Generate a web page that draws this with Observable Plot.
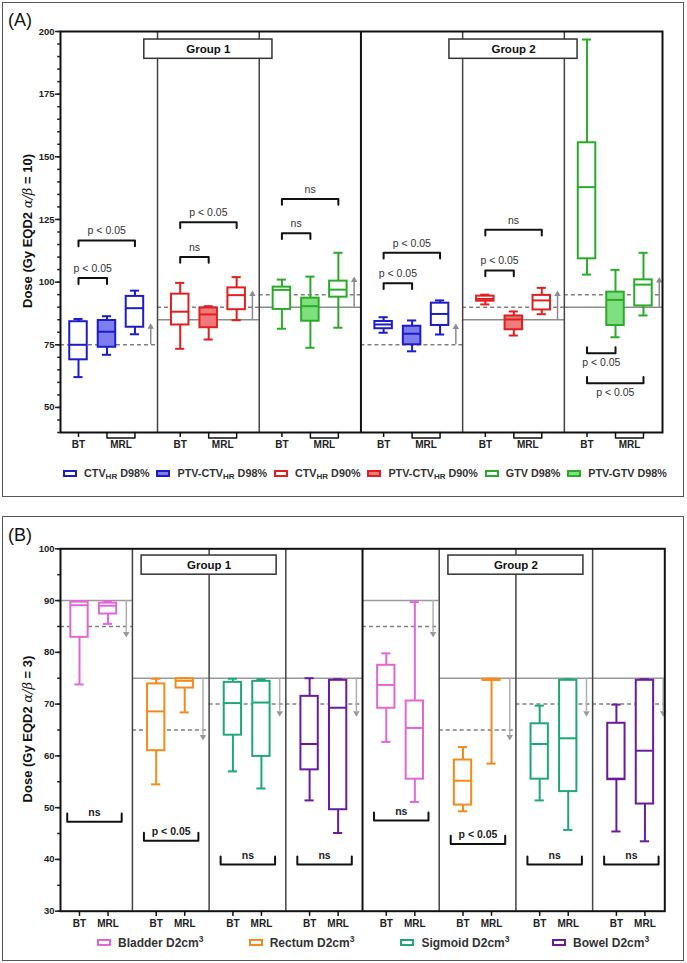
<!DOCTYPE html>
<html>
<head>
<meta charset="utf-8">
<script src="https://cdn.jsdelivr.net/npm/d3@7"></script>
<script src="https://cdn.jsdelivr.net/npm/@observablehq/plot@0.6"></script>
<style>
  body { margin: 0; background: #fff; font-family: "Liberation Sans", Arial, sans-serif; }
  #page { position: relative; width: 687px; height: 963px; overflow: hidden; background: #fff; }
  .panel { position: absolute; border: 1.5px solid #555; box-sizing: border-box; }
  .chart { position: absolute; left: 0; }
  .tag { position: absolute; font-size: 18px; color: #111; line-height: 1; }
  .ytitle { position: absolute; transform: translate(-50%, -50%) rotate(-90deg); white-space: nowrap;
            font-size: 13px; font-weight: bold; color: #111; }
  .ytitle i { font-weight: normal; font-family: "DejaVu Serif", serif; font-size: 13px; }
  .legend { position: absolute; display: flex; align-items: center; font-weight: bold; color: #333; }
  .item { display: flex; align-items: center; white-space: nowrap; }
  .sw { width: 10px; height: 3px; border: 2px solid; margin-right: 7px; flex: none; }
  .lab { white-space: nowrap; }
  .legend sub { font-size: 8px; vertical-align: -2px; line-height: 0; }
  .legend sup { font-size: 8.5px; vertical-align: 5px; line-height: 0; }
</style>
</head>
<body>
<div id="page"></div>
<script>
// ---------- Panel A: target doses, EQD2 (α/β = 10) ----------
const aLegendNames = ["CTV_HR D98%", "PTV-CTV_HR D98%", "CTV_HR D90%", "PTV-CTV_HR D90%", "GTV D98%", "PTV-GTV D98%"];
const aGroupNames = ["Group 1", "Group 2"];
const techLabels = ["BT", "MRL"];
const aYTicks = [50, 75, 100, 125, 150, 175, 200];

// one entry per box: subpanel, slot (0 = BT, 1/2 = MRL), series
const aSubpanel = [0, 0, 0, 1, 1, 1, 2, 2, 2, 3, 3, 3, 4, 4, 4, 5, 5, 5];
const aSlot     = [0, 1, 2, 0, 1, 2, 0, 1, 2, 0, 1, 2, 0, 1, 2, 0, 1, 2];
const aSeries   = [0, 1, 0, 2, 3, 2, 4, 5, 4, 0, 1, 0, 2, 3, 2, 4, 5, 4];
const aMin    = [62.1, 71.0, 79.2, 73.4, 77.1, 84.8, 81.4, 73.8, 81.8, 79.8, 72.4, 79.1, 91.1, 78.7, 87.2, 103.0, 78.0, 86.7];
const aQ1     = [69.0, 74.0, 82.0, 82.9, 81.8, 89.0, 89.1, 84.4, 94.0, 81.4, 75.0, 82.7, 92.4, 81.0, 88.9, 109.3, 82.7, 90.5];
const aMedian = [75.0, 80.2, 89.6, 88.2, 87.1, 94.8, 96.9, 90.4, 97.0, 83.1, 79.4, 87.3, 93.3, 85.1, 92.7, 137.9, 92.9, 99.0];
const aQ3     = [84.2, 84.7, 94.3, 95.2, 89.7, 97.7, 98.0, 93.6, 100.4, 84.3, 82.4, 91.6, 94.4, 86.5, 94.7, 155.6, 96.0, 100.9];
const aMax    = [85.3, 86.4, 96.6, 99.7, 90.4, 102.0, 101.0, 102.2, 111.7, 86.0, 84.7, 92.7, 95.0, 88.3, 97.7, 196.8, 104.9, 111.7];

// dose constraints per subpanel
const aSolid     = [null, 85, 90, null, 85, 90];
const aDashed    = [75, 90, 95, 75, 90, 95];
const aArrowFrom = [75, 85, 90, 75, 85, 90];
const aArrowTo   = [83.5, 96.6, 102.2, 83.4, 96.6, 102.0];

// significance brackets: BT compared with MRL slot
const aSigSubpanel = [0, 0, 1, 1, 2, 2, 3, 3, 4, 4, 5, 5];
const aSigSlot     = [1, 2, 1, 2, 1, 2, 1, 2, 1, 2, 1, 2];
const aSigLevel    = [101.6, 116.6, 110.0, 123.9, 119.5, 133.2, 99.6, 111.7, 104.6, 120.9, 71.6, 59.7];
const aSigText     = ["p < 0.05", "p < 0.05", "ns", "p < 0.05", "ns", "ns", "p < 0.05", "p < 0.05", "p < 0.05", "ns", "p < 0.05", "p < 0.05"];
const aSigBelow    = [false, false, false, false, false, false, false, false, false, false, true, true];

// ---------- Panel B: organs at risk, EQD2 (α/β = 3) ----------
const bLegendNames = ["Bladder", "Rectum", "Sigmoid", "Bowel"];
const bYTicks = [30, 40, 50, 60, 70, 80, 90, 100];
const bSubpanel = [0, 0, 1, 1, 2, 2, 3, 3, 4, 4, 5, 5, 6, 6, 7, 7];
const bSlot     = [0, 1, 0, 1, 0, 1, 0, 1, 0, 1, 0, 1, 0, 1, 0, 1];
const bSeries   = [0, 0, 1, 1, 2, 2, 3, 3, 0, 0, 1, 1, 2, 2, 3, 3];
const bMin    = [73.8, 85.5, 54.5, 68.4, 57.0, 53.7, 51.4, 45.1, 62.7, 51.1, 49.3, 58.5, 51.4, 45.7, 45.4, 43.5];
const bQ1     = [82.9, 87.4, 61.0, 73.1, 64.0, 59.9, 57.3, 49.6, 69.2, 55.5, 50.5, 74.6, 55.5, 53.1, 55.4, 50.7];
const bMedian = [89.1, 89.0, 68.6, 74.5, 70.2, 70.3, 62.3, 69.3, 73.7, 65.4, 55.2, 74.7, 62.3, 63.4, 55.6, 61.0];
const bQ3     = [89.7, 89.5, 73.9, 74.9, 74.2, 74.4, 71.5, 74.6, 77.5, 70.6, 59.2, 74.8, 66.2, 74.6, 66.3, 74.6];
const bMax    = [89.9, 89.9, 74.9, 75.0, 74.9, 74.8, 75.0, 74.8, 79.8, 89.7, 61.7, 74.9, 69.7, 74.8, 69.9, 74.8];

const bSolid   = [90, 75, 75, 75, 90, 75, 75, 75];
const bDashed  = [85, 65, 70, 70, 85, 65, 70, 70];
const bArrowTo = [82.9, 63.0, 67.6, 67.6, 82.9, 63.0, 67.6, 67.6];

const bSigLevel = [47.3, 43.6, 39.0, 39.0, 47.5, 43.0, 39.0, 39.0];
const bSigText  = ["ns", "p < 0.05", "ns", "ns", "ns", "p < 0.05", "ns", "ns"];

// ---------- styling ----------
const aStroke = ["#1c1cc8", "#1c1cc8", "#e02020", "#e02020", "#2aab2a", "#2aab2a"];
const aFill   = ["#ffffff", "#7d7def", "#ffffff", "#f07a7a", "#ffffff", "#80e080"];
const bStroke = ["#e067d6", "#f28b1d", "#1fa77c", "#6a1c9a"];
const FONT = '"Liberation Sans", Arial, sans-serif';

// ---------- layout helpers (x in subpanel units) ----------
const A = { slot: [0, 0.28, 0.555], div: 0.777, domain: [-0.177, 5.742], n: 6, half: 0.086, cap: 0.045 };
const B = { slot: [0, 0.372], div: 0.69, domain: [-0.2477, 7.631], n: 8, half: 0.113, cap: 0.06 };

function span(k, L) {
  return [k === 0 ? L.domain[0] : k - 1 + L.div, k === L.n - 1 ? L.domain[1] : k + L.div];
}

function boxRows(sub, slot, series, mn, q1, md, q3, mx, L) {
  return mn.map((_, i) => ({
    x: sub[i] + L.slot[slot[i]], series: series[i],
    min: mn[i], q1: q1[i], median: md[i], q3: q3[i], max: mx[i]
  }));
}

function boxMarks(rows, L, stroke, fill) {
  const s = d => stroke[d.series];
  const common = { stroke: s, strokeWidth: 2 };
  return [
    Plot.ruleX(rows, { x: "x", y1: "min", y2: "q1", ...common }),
    Plot.ruleX(rows, { x: "x", y1: "q3", y2: "max", ...common }),
    Plot.ruleY(rows, { y: "min", x1: d => d.x - L.cap, x2: d => d.x + L.cap, ...common }),
    Plot.ruleY(rows, { y: "max", x1: d => d.x - L.cap, x2: d => d.x + L.cap, ...common }),
    Plot.rect(rows, { x1: d => d.x - L.half, x2: d => d.x + L.half, y1: "q1", y2: "q3",
                      fill: d => fill[d.series], ...common }),
    Plot.ruleY(rows, { y: "median", x1: d => d.x - L.half, x2: d => d.x + L.half, ...common })
  ];
}

function dividerRows(L, groupBreak) {
  const rows = [];
  for (let k = 0; k < L.n - 1; k++) rows.push({ x: k + L.div, major: k === groupBreak });
  return rows;
}

const page = document.getElementById("page");

// ---------- Panel A chart ----------
const aBoxes = boxRows(aSubpanel, aSlot, aSeries, aMin, aQ1, aMedian, aQ3, aMax, A);
const aRef = aDashed.map((v, k) => {
  const [x1, x2] = span(k, A);
  return { k, x1, x2, solid: aSolid[k], dashed: v, from: aArrowFrom[k], to: aArrowTo[k] };
});
const aSigRows = aSigLevel.map((v, i) => ({
  id: i, x1: aSigSubpanel[i], x2: aSigSubpanel[i] + A.slot[aSigSlot[i]],
  y: v, text: aSigText[i], below: aSigBelow[i]
}));
const aSigPts = aSigRows.flatMap(d => {
  const e = d.below ? 2.4 : -2.3;
  return [{ id: d.id, x: d.x1, y: d.y + e }, { id: d.id, x: d.x1, y: d.y },
          { id: d.id, x: d.x2, y: d.y }, { id: d.id, x: d.x2, y: d.y + e }];
});
const aTicksX = d3.range(A.n).map(k => ({ k }));
const aMrlPts = aTicksX.flatMap(({ k }) => [
  { k, x: k + A.slot[1], y: 40 }, { k, x: k + A.slot[1], y: 37.8 },
  { k, x: k + A.slot[2], y: 37.8 }, { k, x: k + A.slot[2], y: 40 }
]);
const aGroups = aGroupNames.map((g, i) => {
  const c = 1 + 3 * i + A.div - 0.5;
  return { text: g, x1: c - 0.63, x2: c + 0.63, c, y1: 189.1, y2: 196.8 };
});

const chartA = Plot.plot({
  width: 687, height: 455,
  marginLeft: 60, marginRight: 25, marginTop: 31, marginBottom: 23,
  style: { fontFamily: FONT, background: "transparent", overflow: "visible", color: "#222" },
  x: { domain: A.domain, axis: null },
  y: { domain: [40, 200] },
  color: { type: "identity" },
  marks: [
    Plot.ruleY(aRef.filter(d => d.solid != null), { y: "solid", x1: "x1", x2: "x2", stroke: "#8c8c8c", strokeWidth: 1.5 }),
    Plot.ruleY(aRef, { y: "dashed", x1: "x1", x2: "x2", stroke: "#808080", strokeWidth: 1.5, strokeDasharray: "4,3" }),
    Plot.ruleX(aRef, { x: d => d.k + 0.71, y1: "from", y2: d => d.to - 1.5, stroke: "#8c8c8c", strokeWidth: 1.5 }),
    Plot.dot(aRef, { x: d => d.k + 0.71, y: "to", symbol: "triangle", r: 2.4, fill: "#8c8c8c", stroke: null, dy: 3.5 }),
    ...boxMarks(aBoxes, A, aStroke, aFill),
    Plot.ruleX(dividerRows(A, 2), { x: "x", stroke: d => d.major ? "#111" : "#444", strokeWidth: d => d.major ? 2 : 1.5 }),
    Plot.frame({ stroke: "#111", strokeWidth: 2 }),
    Plot.axisY({ ticks: aYTicks, tickSize: 5, tickPadding: 1, fontSize: 9.5, fontWeight: "bold", label: null, strokeWidth: 1.5 }),
    Plot.axisY({ ticks: d3.range(40, 201, 5), tickSize: 2.8, tickFormat: () => "", label: null, strokeWidth: 1.5 }),
    Plot.line(aSigPts, { x: "x", y: "y", z: "id", stroke: "#111", strokeWidth: 2 }),
    Plot.text(aSigRows.filter(d => !d.below), { x: d => (d.x1 + d.x2) / 2, y: "y", text: "text", dy: -9.5, fontSize: 10.5, fill: "#333" }),
    Plot.text(aSigRows.filter(d => d.below), { x: d => (d.x1 + d.x2) / 2, y: "y", text: "text", dy: 9.5, fontSize: 10.5, fill: "#333" }),
    Plot.ruleX(aTicksX, { x: "k", y1: 40, y2: 38, stroke: "#111", strokeWidth: 1.5 }),
    Plot.line(aMrlPts, { x: "x", y: "y", z: "k", stroke: "#111", strokeWidth: 1.5 }),
    Plot.text(aTicksX, { x: "k", y: 40, text: () => techLabels[0], dy: 12.5, fontSize: 10, fontWeight: "bold", fill: "#222" }),
    Plot.text(aTicksX, { x: d => d.k + (A.slot[1] + A.slot[2]) / 2, y: 40, text: () => techLabels[1], dy: 12.5, fontSize: 10, fontWeight: "bold", fill: "#222" }),
    Plot.rect(aGroups, { x1: "x1", x2: "x2", y1: "y1", y2: "y2", fill: "#fff", stroke: "#333", strokeWidth: 1.5 }),
    Plot.text(aGroups, { x: "c", y: d => (d.y1 + d.y2) / 2, text: "text", fontSize: 11.5, fontWeight: "bold", fill: "#111" })
  ]
});
chartA.classList.add("chart");
chartA.style.top = "0px";

// ---------- Panel B chart ----------
const bBoxes = boxRows(bSubpanel, bSlot, bSeries, bMin, bQ1, bMedian, bQ3, bMax, B);
const bRef = bSolid.map((v, k) => {
  const [x1, x2] = span(k, B);
  return { k, x1, x2, solid: v, dashed: bDashed[k], to: bArrowTo[k] };
});
const bSigRows = bSigLevel.map((v, k) => ({ id: k, x1: k - 0.16, x2: k + 0.55, y: v, text: bSigText[k] }));
const bSigPts = bSigRows.flatMap(d => [
  { id: d.id, x: d.x1, y: d.y + 1.55 }, { id: d.id, x: d.x1, y: d.y },
  { id: d.id, x: d.x2, y: d.y }, { id: d.id, x: d.x2, y: d.y + 1.55 }
]);
const bTicksX = d3.range(B.n).flatMap(k => B.slot.map((o, j) => ({ x: k + o, text: techLabels[j] })));
const bGroups = aGroupNames.map((g, i) => {
  const c = 1 + 4 * i + B.div;
  return { text: g, x1: c - 0.88, x2: c + 0.88, c, y1: 95.0, y2: 98.7 };
});

const chartB = Plot.plot({
  width: 687, height: 432,
  marginLeft: 60, marginRight: 22.7, marginTop: 48.3, marginBottom: 21.3,
  style: { fontFamily: FONT, background: "transparent", overflow: "visible", color: "#222" },
  x: { domain: B.domain, axis: null },
  y: { domain: [30, 100] },
  color: { type: "identity" },
  marks: [
    Plot.ruleY(bRef, { y: "solid", x1: "x1", x2: "x2", stroke: "#9a9a9a", strokeWidth: 1.5 }),
    Plot.ruleY(bRef, { y: "dashed", x1: "x1", x2: "x2", stroke: "#808080", strokeWidth: 1.5, strokeDasharray: "4,3" }),
    Plot.ruleX(bRef, { x: d => d.k + 0.61, y1: "solid", y2: d => d.to + 1, stroke: "#b0b0b0", strokeWidth: 1.5 }),
    Plot.dot(bRef, { x: d => d.k + 0.61, y: "to", symbol: "triangle", rotate: 180, r: 2.4, fill: "#999", stroke: null, dy: -3.5 }),
    ...boxMarks(bBoxes, B, bStroke, ["#fff", "#fff", "#fff", "#fff"]),
    Plot.ruleX(dividerRows(B, 3), { x: "x", stroke: d => d.major ? "#111" : "#444", strokeWidth: d => d.major ? 2 : 1.5 }),
    Plot.frame({ stroke: "#111", strokeWidth: 2 }),
    Plot.axisY({ ticks: bYTicks, tickSize: 5, tickPadding: 1, fontSize: 9.5, fontWeight: "bold", label: null, strokeWidth: 1.5 }),
    Plot.axisY({ ticks: d3.range(30, 101, 5), tickSize: 2.8, tickFormat: () => "", label: null, strokeWidth: 1.5 }),
    Plot.line(bSigPts, { x: "x", y: "y", z: "id", stroke: "#111", strokeWidth: 2 }),
    Plot.text(bSigRows, { x: d => (d.x1 + d.x2) / 2, y: "y", text: "text", dy: -9, fontSize: 10.5, fontWeight: "bold", fill: "#222" }),
    Plot.ruleX(bTicksX, { x: "x", y1: 30, y2: 29, stroke: "#111", strokeWidth: 1.5 }),
    Plot.text(bTicksX, { x: "x", y: 30, text: "text", dy: 12.8, fontSize: 10, fontWeight: "bold", fill: "#222" }),
    Plot.rect(bGroups, { x1: "x1", x2: "x2", y1: "y1", y2: "y2", fill: "#fff", stroke: "#333", strokeWidth: 1.5 }),
    Plot.text(bGroups, { x: "c", y: d => (d.y1 + d.y2) / 2, text: "text", fontSize: 11.5, fontWeight: "bold", fill: "#111" })
  ]
});
chartB.classList.add("chart");
chartB.style.top = "500px";

// ---------- frames, tags, titles, legends ----------
function el(cls, css, html) {
  const d = document.createElement("div");
  d.className = cls;
  Object.assign(d.style, css);
  if (html != null) d.innerHTML = html;
  page.appendChild(d);
  return d;
}

el("panel", { left: "2px", top: "2px", width: "682px", height: "495px" });
el("panel", { left: "2px", top: "516px", width: "682px", height: "445px" });
page.appendChild(chartA);
page.appendChild(chartB);
el("tag", { left: "8px", top: "11px" }, "(A)");
el("tag", { left: "8px", top: "526px" }, "(B)");
el("ytitle", { left: "27px", top: "231px" }, "Dose (Gy EQD2 <i>α/β</i> = 10)");
el("ytitle", { left: "27px", top: "729px" }, "Dose (Gy EQD2 <i>α/β</i> = 3)");

function legendItem(color, fill, labelHtml, width) {
  const item = document.createElement("div");
  item.className = "item";
  if (width) item.style.width = width;
  item.innerHTML = `<span class="sw" style="border-color:${color};background:${fill}"></span>` +
                   `<span class="lab">${labelHtml}</span>`;
  return item;
}

const legA = el("legend", { left: "63px", top: "466px", width: "604px", height: "14px",
                            justifyContent: "space-between", fontSize: "10.8px" });
aLegendNames.forEach((name, i) => {
  legA.appendChild(legendItem(aStroke[i], aFill[i], name.replace("_HR", "<sub>HR</sub>")));
});

const legB = el("legend", { left: "97px", top: "935px", height: "15px", fontSize: "12px" });
bLegendNames.forEach((name, i) => {
  legB.appendChild(legendItem(bStroke[i], "#fff", `${name} D2cm<sup>3</sup>`, "151.7px"));
});
</script>
</body>
</html>
